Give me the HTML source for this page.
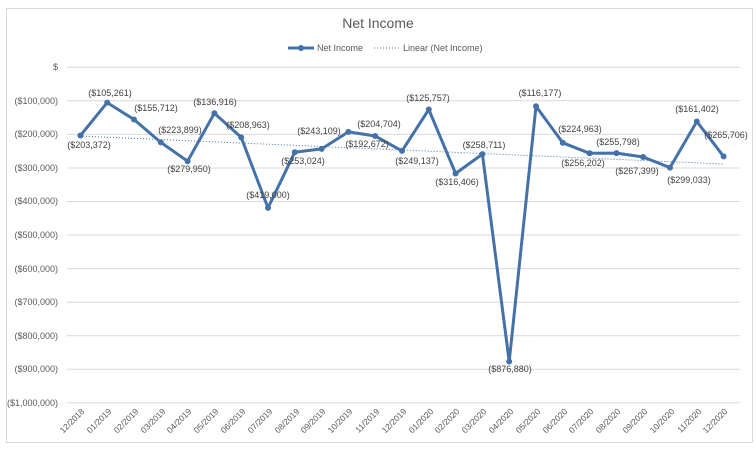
<!DOCTYPE html><html><head><meta charset="utf-8"><style>body{margin:0;background:#fff}svg{display:block;font-family:"Liberation Sans",sans-serif}</style></head><body>
<svg width="756" height="450" viewBox="0 0 756 450">
<rect x="6.5" y="8.5" width="746" height="434" fill="#fff" stroke="#d9d9d9"/>
<text x="378" y="28" text-anchor="middle" font-size="14" fill="#595959">Net Income</text>
<line x1="288" y1="48" x2="314" y2="48" stroke="#4472a8" stroke-width="3"/><circle cx="301" cy="48" r="3" fill="#4472a8"/>
<text x="317" y="51" font-size="9" fill="#595959">Net Income</text>
<line x1="374" y1="48" x2="400" y2="48" stroke="#4472a8" stroke-dasharray="1,2"/>
<text x="403" y="51" font-size="9" fill="#595959">Linear (Net Income)</text>
<g stroke="#d9d9d9" stroke-width="1">
<line x1="67" y1="100.8" x2="740" y2="100.8"/><line x1="67" y1="134.4" x2="740" y2="134.4"/><line x1="67" y1="168" x2="740" y2="168"/><line x1="67" y1="201.5" x2="740" y2="201.5"/><line x1="67" y1="235" x2="740" y2="235"/><line x1="67" y1="268.6" x2="740" y2="268.6"/><line x1="67" y1="302.2" x2="740" y2="302.2"/><line x1="67" y1="335.7" x2="740" y2="335.7"/><line x1="67" y1="369.3" x2="740" y2="369.3"/><line x1="67" y1="402.8" x2="740" y2="402.8"/>
<line x1="67" y1="67.3" x2="740" y2="67.3"/>
</g>
<g font-size="9" fill="#595959" text-anchor="end">
<text x="58" y="70">$</text><text x="58" y="104">($100,000)</text><text x="58" y="137">($200,000)</text><text x="58" y="171">($300,000)</text><text x="58" y="204">($400,000)</text><text x="58" y="238">($500,000)</text><text x="58" y="272">($600,000)</text><text x="58" y="305">($700,000)</text><text x="58" y="339">($800,000)</text><text x="58" y="372">($900,000)</text><text x="58" y="406">($1,000,000)</text>
</g>
<g font-size="8.5" fill="#595959" text-anchor="end">
<text transform="translate(85,412) rotate(-45)">12/2018</text><text transform="translate(112,412) rotate(-45)">01/2019</text><text transform="translate(139,412) rotate(-45)">02/2019</text><text transform="translate(166,412) rotate(-45)">03/2019</text><text transform="translate(192,412) rotate(-45)">04/2019</text><text transform="translate(219,412) rotate(-45)">05/2019</text><text transform="translate(246,412) rotate(-45)">06/2019</text><text transform="translate(273,412) rotate(-45)">07/2019</text><text transform="translate(300,412) rotate(-45)">08/2019</text><text transform="translate(326,412) rotate(-45)">09/2019</text><text transform="translate(353,412) rotate(-45)">10/2019</text><text transform="translate(380,412) rotate(-45)">11/2019</text><text transform="translate(407,412) rotate(-45)">12/2019</text><text transform="translate(434,412) rotate(-45)">01/2020</text><text transform="translate(460,412) rotate(-45)">02/2020</text><text transform="translate(487,412) rotate(-45)">03/2020</text><text transform="translate(514,412) rotate(-45)">04/2020</text><text transform="translate(541,412) rotate(-45)">05/2020</text><text transform="translate(568,412) rotate(-45)">06/2020</text><text transform="translate(594,412) rotate(-45)">07/2020</text><text transform="translate(621,412) rotate(-45)">08/2020</text><text transform="translate(648,412) rotate(-45)">09/2020</text><text transform="translate(675,412) rotate(-45)">10/2020</text><text transform="translate(702,412) rotate(-45)">11/2020</text><text transform="translate(728,412) rotate(-45)">12/2020</text>
</g>
<line x1="80" y1="136" x2="723" y2="164" stroke="#4472a8" stroke-dasharray="1,2"/>
<polyline fill="none" stroke="#4472a8" stroke-width="3" stroke-linejoin="round" points="80.4,135.5 107.2,102.6 134,119.5 160.8,142.4 187.6,161.2 214.4,113.2 241.2,137.4 268,207.9 294.8,152.2 321.6,148.9 348.4,131.9 375.2,136 402,150.9 428.8,109.5 455.6,173.5 482.4,154.1 509.2,361.5 536,106.3 562.8,142.8 589.6,153.3 616.4,153.1 643.2,157 670,167.6 696.8,121.5 723.6,156.4"/>
<g fill="#4472a8"><circle cx="80.4" cy="135.5" r="3"/><circle cx="107.2" cy="102.6" r="3"/><circle cx="134" cy="119.5" r="3"/><circle cx="160.8" cy="142.4" r="3"/><circle cx="187.6" cy="161.2" r="3"/><circle cx="214.4" cy="113.2" r="3"/><circle cx="241.2" cy="137.4" r="3"/><circle cx="268" cy="207.9" r="3"/><circle cx="294.8" cy="152.2" r="3"/><circle cx="321.6" cy="148.9" r="3"/><circle cx="348.4" cy="131.9" r="3"/><circle cx="375.2" cy="136" r="3"/><circle cx="402" cy="150.9" r="3"/><circle cx="428.8" cy="109.5" r="3"/><circle cx="455.6" cy="173.5" r="3"/><circle cx="482.4" cy="154.1" r="3"/><circle cx="509.2" cy="361.5" r="3"/><circle cx="536" cy="106.3" r="3"/><circle cx="562.8" cy="142.8" r="3"/><circle cx="589.6" cy="153.3" r="3"/><circle cx="616.4" cy="153.1" r="3"/><circle cx="643.2" cy="157" r="3"/><circle cx="670" cy="167.6" r="3"/><circle cx="696.8" cy="121.5" r="3"/><circle cx="723.6" cy="156.4" r="3"/></g>
<g font-size="9" fill="#404040" text-anchor="middle">
<text x="89" y="148">($203,372)</text><text x="110" y="96">($105,261)</text><text x="156" y="111">($155,712)</text><text x="180" y="133">($223,899)</text><text x="189" y="172">($279,950)</text><text x="215" y="105">($136,916)</text><text x="248" y="128">($208,963)</text><text x="268" y="198">($419,000)</text><text x="303" y="164">($253,024)</text><text x="319" y="134">($243,109)</text><text x="367" y="147">($192,672)</text><text x="379" y="127">($204,704)</text><text x="417" y="164">($249,137)</text><text x="428" y="101">($125,757)</text><text x="457" y="185">($316,406)</text><text x="484" y="148">($258,711)</text><text x="510" y="372">($876,880)</text><text x="540" y="96">($116,177)</text><text x="580" y="132">($224,963)</text><text x="583" y="166">($256,202)</text><text x="618" y="145">($255,798)</text><text x="637" y="174">($267,399)</text><text x="689" y="183">($299,033)</text><text x="697" y="112">($161,402)</text><text x="726" y="138">($265,706)</text>
</g>
</svg>
</body></html>
